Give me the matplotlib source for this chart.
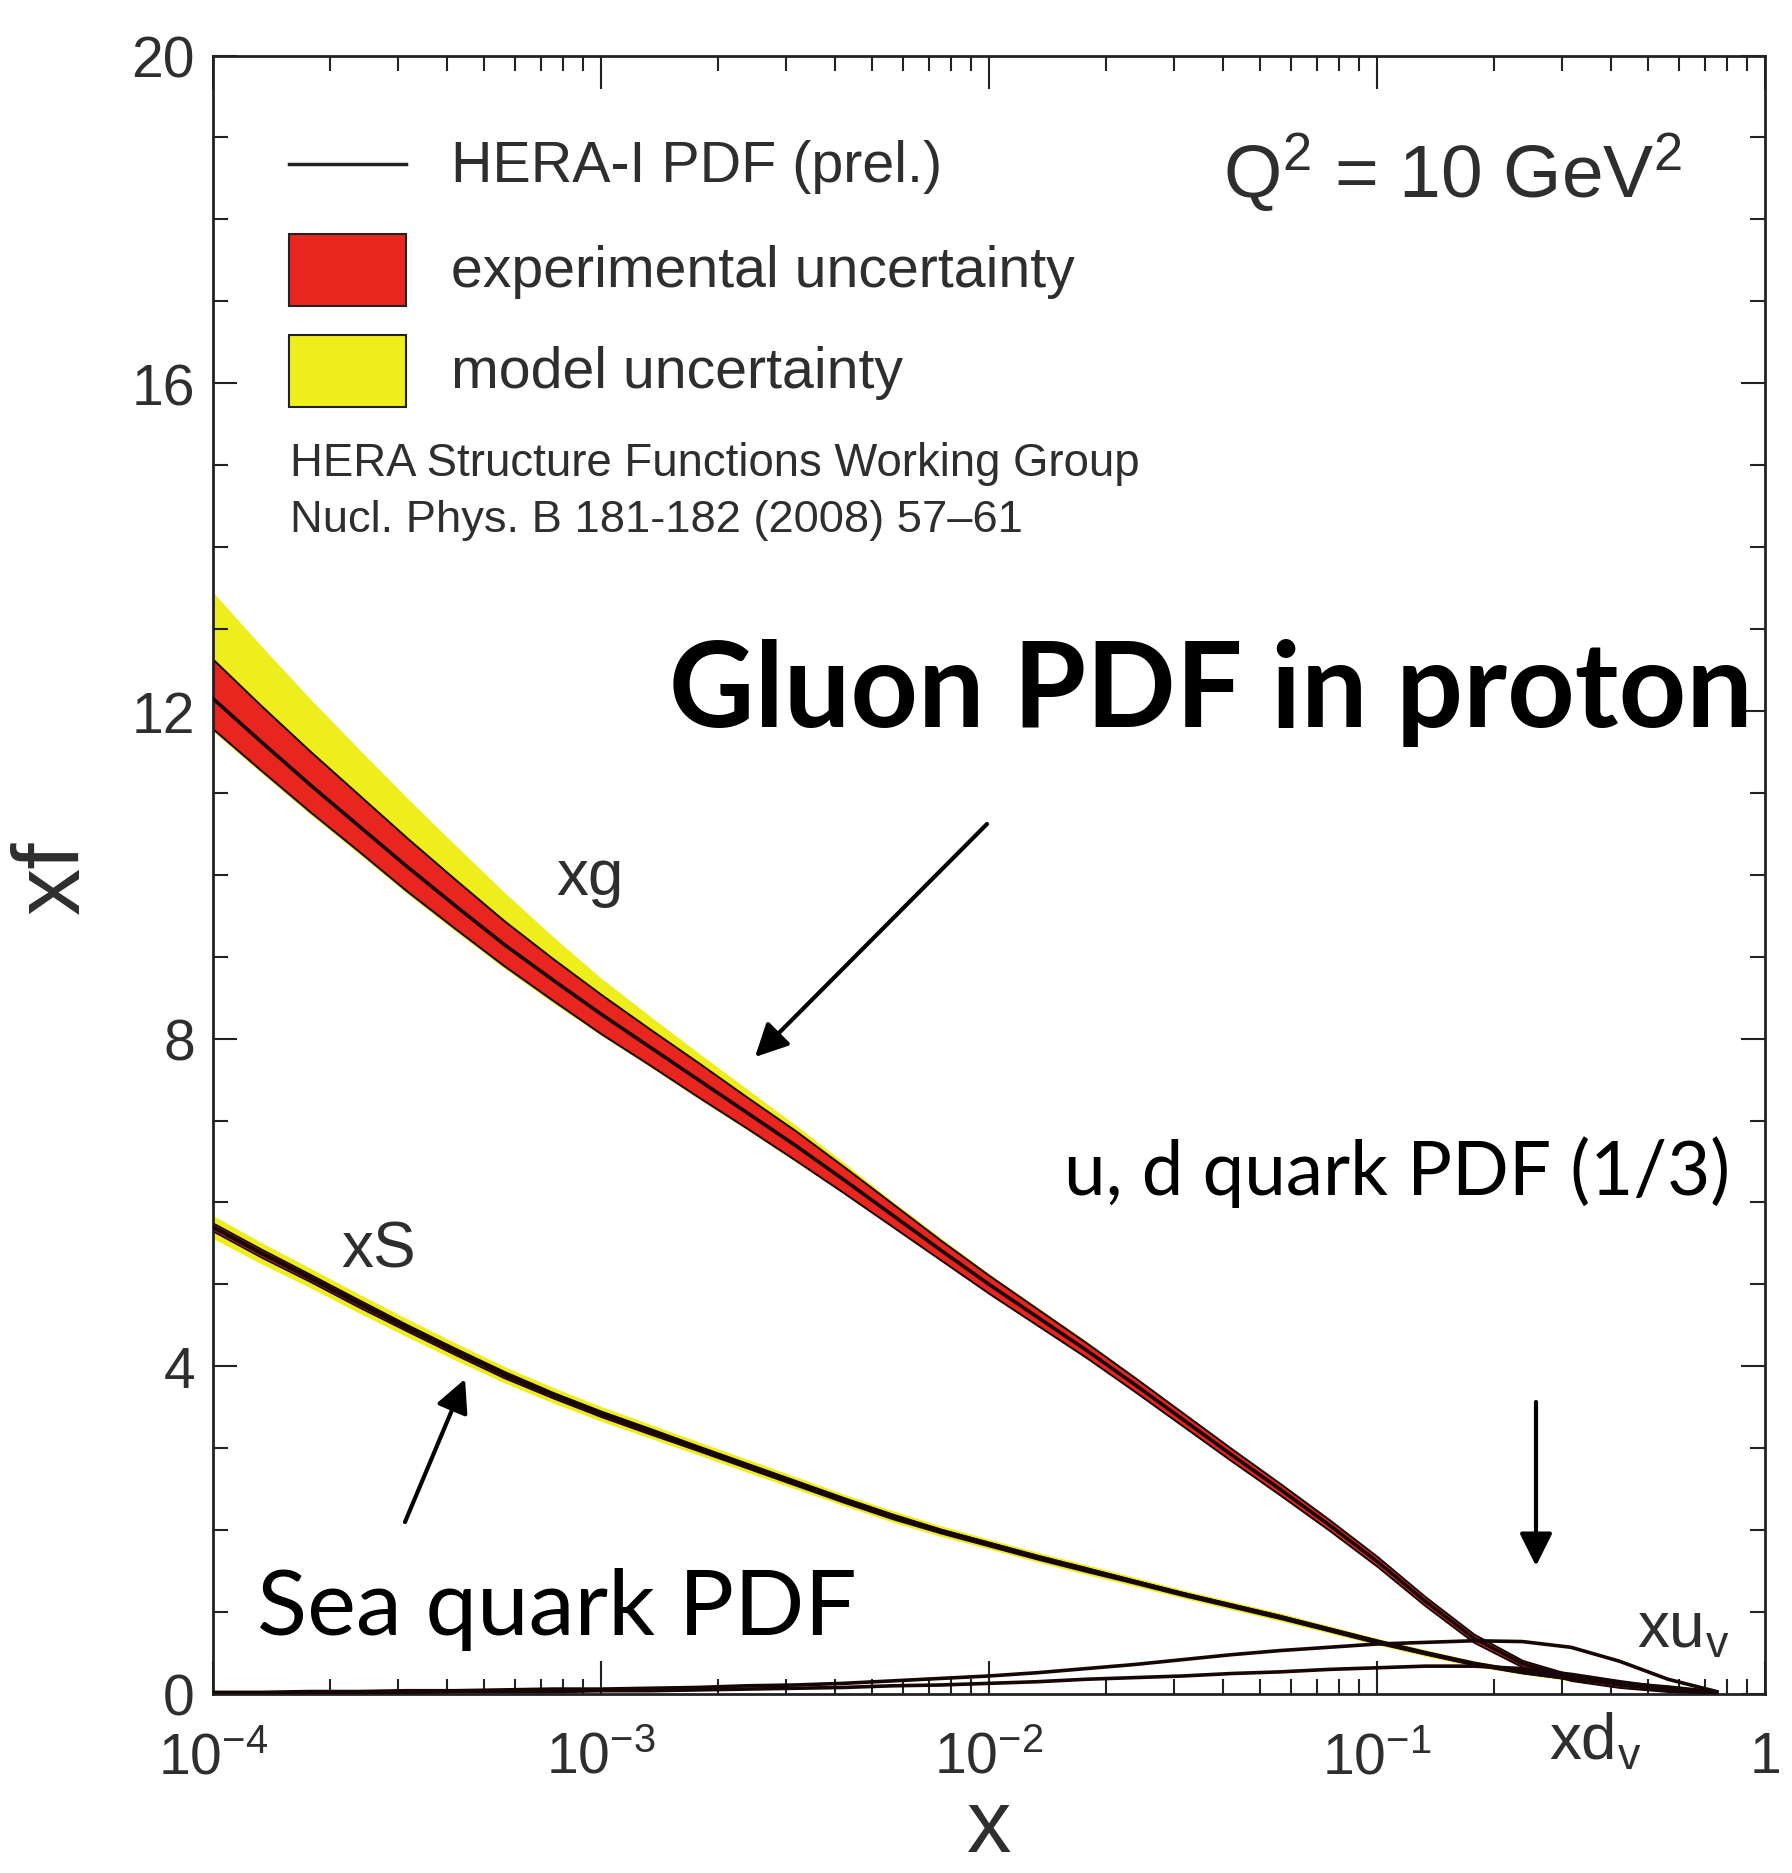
import numpy as np
import matplotlib
matplotlib.use("Agg")
import matplotlib.pyplot as plt
from matplotlib.lines import Line2D
from matplotlib.patches import Rectangle
from matplotlib.ticker import LogLocator, MultipleLocator, NullFormatter

plt.rcParams['font.family'] = ['Liberation Sans', 'DejaVu Sans']
plt.rcParams['mathtext.default'] = 'regular'

# ---- data (Q^2 = 10 GeV^2) ----
log_x = [-4.0, -3.875, -3.75, -3.625, -3.5, -3.375, -3.25, -3.125,
         -3.0, -2.875, -2.75, -2.625, -2.5, -2.375, -2.25, -2.125,
         -2.0, -1.875, -1.75, -1.625, -1.5, -1.375, -1.25, -1.125,
         -1.0, -0.875, -0.75, -0.625, -0.5, -0.375, -0.25, -0.125]

# gluon xg, central + half widths of bands
xg = [12.15, 11.62, 11.10, 10.60, 10.10, 9.62, 9.15, 8.72,
      8.30, 7.90, 7.50, 7.10, 6.70, 6.28, 5.85, 5.42,
      5.00, 4.60, 4.20, 3.78, 3.35, 2.92, 2.50, 2.07,
      1.62, 1.13, 0.68, 0.37, 0.20, 0.11, 0.05, 0.01]
xg_exp_up = [0.48, 0.44, 0.41, 0.38, 0.35, 0.32, 0.29, 0.26,
             0.24, 0.22, 0.21, 0.19, 0.18, 0.16, 0.14, 0.12,
             0.11, 0.10, 0.09, 0.085, 0.08, 0.075, 0.07, 0.065,
             0.06, 0.055, 0.05, 0.04, 0.035, 0.03, 0.02, 0.01]
xg_exp_dn = [0.37, 0.35, 0.33, 0.31, 0.30, 0.28, 0.26, 0.25,
             0.24, 0.22, 0.21, 0.19, 0.18, 0.16, 0.14, 0.12,
             0.11, 0.10, 0.09, 0.085, 0.08, 0.075, 0.07, 0.065,
             0.06, 0.055, 0.05, 0.04, 0.035, 0.03, 0.02, 0.01]
xg_mod_up = [1.30, 1.17, 1.05, 0.94, 0.84, 0.74, 0.64, 0.53,
             0.44, 0.38, 0.33, 0.29, 0.25, 0.21, 0.17, 0.15,
             0.13, 0.12, 0.11, 0.10, 0.09, 0.085, 0.08, 0.075,
             0.07, 0.065, 0.06, 0.05, 0.04, 0.035, 0.025, 0.015]
xg_mod_dn = [0.40, 0.38, 0.36, 0.34, 0.33, 0.31, 0.29, 0.28,
             0.26, 0.24, 0.23, 0.21, 0.20, 0.17, 0.15, 0.13,
             0.12, 0.11, 0.10, 0.095, 0.09, 0.085, 0.08, 0.075,
             0.07, 0.065, 0.06, 0.05, 0.04, 0.035, 0.025, 0.015]

# sea xS
xS = [5.70, 5.38, 5.08, 4.77, 4.47, 4.18, 3.90, 3.65,
      3.42, 3.21, 3.00, 2.79, 2.58, 2.37, 2.17, 1.99,
      1.83, 1.67, 1.52, 1.37, 1.22, 1.08, 0.94, 0.79,
      0.64, 0.50, 0.37, 0.27, 0.19, 0.13, 0.08, 0.02]
xS_exp = [0.05, 0.05, 0.045, 0.045, 0.04, 0.04, 0.04, 0.035,
          0.035, 0.035, 0.03, 0.03, 0.03, 0.03, 0.03, 0.025,
          0.025, 0.025, 0.025, 0.02, 0.02, 0.02, 0.02, 0.02,
          0.02, 0.015, 0.015, 0.015, 0.01, 0.01, 0.01, 0.005]
xS_mod = [0.14, 0.13, 0.12, 0.115, 0.11, 0.105, 0.10, 0.095,
          0.09, 0.085, 0.08, 0.08, 0.075, 0.07, 0.07, 0.065,
          0.06, 0.06, 0.06, 0.055, 0.05, 0.05, 0.05, 0.045,
          0.04, 0.04, 0.035, 0.03, 0.03, 0.02, 0.02, 0.01]

# valence
xuv = [0.02, 0.02, 0.03, 0.03, 0.04, 0.04, 0.05, 0.06,
       0.06, 0.07, 0.08, 0.10, 0.11, 0.13, 0.16, 0.19,
       0.22, 0.26, 0.31, 0.36, 0.42, 0.48, 0.53, 0.57,
       0.61, 0.63, 0.65, 0.64, 0.57, 0.40, 0.18, 0.03]
xdv = [0.01, 0.01, 0.02, 0.02, 0.02, 0.03, 0.03, 0.03,
       0.04, 0.04, 0.05, 0.06, 0.07, 0.08, 0.10, 0.11,
       0.13, 0.15, 0.18, 0.20, 0.22, 0.25, 0.27, 0.30,
       0.32, 0.34, 0.34, 0.31, 0.24, 0.15, 0.07, 0.01]

xtick_vals = [1e-4, 1e-3, 1e-2, 1e-1, 1]
xtick_labels = [r'$10^{-4}$', r'$10^{-3}$', r'$10^{-2}$', r'$10^{-1}$', '1']
ytick_vals = [0, 4, 8, 12, 16, 20]
ytick_labels = ['0', '4', '8', '12', '16', '20']

RED = '#e8251e'
YELLOW = '#eeee1c'
DARK = '#160606'
GREY = '#2e2e2e'

W, H = 1792, 1874


def fx(p):
    return p / W


def fy(p):
    return 1 - p / H


fig = plt.figure(figsize=(W / 100, H / 100), dpi=100)
ax = fig.add_axes([fx(213), fy(1695), (1765 - 213) / W, (1695 - 56.5) / H])

x = 10.0 ** np.array(log_x)
g = np.array(xg)
s = np.array(xS)

# gluon
ax.fill_between(x, g - np.array(xg_mod_dn), g + np.array(xg_mod_up),
                color=YELLOW, lw=0, zorder=1)
ax.fill_between(x, g - np.array(xg_exp_dn), g + np.array(xg_exp_up),
                facecolor=RED, edgecolor=DARK, lw=1.4, zorder=2)
ax.plot(x, g, color=DARK, lw=2.6, zorder=3)

# sea
ax.fill_between(x, s - np.array(xS_mod), s + np.array(xS_mod),
                color=YELLOW, lw=0, zorder=1)
ax.fill_between(x, s - np.array(xS_exp), s + np.array(xS_exp),
                facecolor=RED, edgecolor=DARK, lw=1.2, zorder=2)
ax.plot(x, s, color=DARK, lw=3.2, zorder=3)

# valence
ax.plot(x, xuv, color=DARK, lw=2.6, zorder=4)
ax.plot(x, xdv, color=DARK, lw=2.6, zorder=4)

ax.set_xscale('log')
ax.set_xlim(1e-4, 1)
ax.set_ylim(0, 20)
ax.set_xticks(xtick_vals, xtick_labels)
ax.xaxis.set_minor_locator(LogLocator(base=10, subs=np.arange(2, 10)))
ax.xaxis.set_minor_formatter(NullFormatter())
ax.set_yticks(ytick_vals, ytick_labels)
ax.yaxis.set_minor_locator(MultipleLocator(1))
ax.tick_params(which='both', direction='in', top=True, right=True,
               width=1.5, color='#222222', labelcolor=GREY, labelsize=41)
ax.tick_params(axis='x', which='major', length=24, pad=26)
ax.tick_params(axis='x', which='minor', length=11)
ax.tick_params(axis='y', which='major', length=17, pad=13)
ax.tick_params(axis='y', which='minor', length=11)
for sp in ax.spines.values():
    sp.set_linewidth(2)
    sp.set_color('#222222')

# axis titles
fig.text(fx(989), fy(1852), 'x', fontsize=64, color=GREY, ha='center', va='baseline')
fig.text(fx(54), fy(877), 'xf', fontsize=68, color=GREY, rotation=90,
         ha='center', va='center')

# legend block
fig.add_artist(Line2D([fx(289), fx(406)], [fy(165), fy(165)], transform=fig.transFigure,
                      color='#222222', lw=2.5))
fig.add_artist(Rectangle((fx(289), fy(307)), (406 - 289) / W, (307 - 235) / H,
                         transform=fig.transFigure, facecolor=RED, edgecolor='#222222', lw=1.5))
fig.add_artist(Rectangle((fx(289), fy(408)), (406 - 289) / W, (408 - 336) / H,
                         transform=fig.transFigure, facecolor=YELLOW, edgecolor='#222222', lw=1.5))

renderer = fig.canvas.get_renderer()


def fit_width(t, target):
    w = t.get_window_extent(renderer).width
    t.set_fontsize(t.get_fontsize() * target / w)


items = [
    (451, 182, 'HERA-I PDF (prel.)', 490),
    (451, 287, 'experimental uncertainty', 624),
    (451, 388, 'model uncertainty', 452),
    (290, 476, 'HERA Structure Functions Working Group', 849),
    (290, 532, 'Nucl. Phys. B 181-182 (2008) 57\u201361', 732),
]
for px, py, txt, wd in items:
    t = fig.text(fx(px), fy(py), txt, fontsize=40, color=GREY, va='baseline')
    fit_width(t, wd)

fig.text(fx(1223), fy(198), r'$Q^2$ = 10 GeV$^2$', fontsize=54, color=GREY, va='baseline')

# curve labels
fig.text(fx(556), fy(895), 'xg', fontsize=46, color=GREY, va='baseline')
fig.text(fx(341), fy(1267), 'xS', fontsize=46, color=GREY, va='baseline')
fig.text(fx(1637), fy(1648), r'$xu_v$', fontsize=46, color=GREY, va='baseline')
fig.text(fx(1549), fy(1760), r'$xd_v$', fontsize=46, color=GREY, va='baseline')

# slide annotations
t = fig.text(fx(669), fy(727), 'Gluon PDF in proton', fontsize=80, fontweight='bold',
             family=['Lato', 'DejaVu Sans'], color='black', va='baseline')
fit_width(t, 1084)
t = fig.text(fx(257), fy(1635), 'Sea quark PDF', fontsize=70,
             family=['Lato', 'DejaVu Sans'], color='black', va='baseline')
fit_width(t, 600)
t = fig.text(fx(1064), fy(1195), 'u, d quark PDF (1/3)', fontsize=50,
             family=['Lato', 'DejaVu Sans'], color='black', va='baseline')
fit_width(t, 666)

arrow = dict(arrowstyle='-|>', lw=3, color='black', mutation_scale=50,
             shrinkA=0, shrinkB=0)
ax.annotate('', xy=(fx(755), fy(1058)), xytext=(fx(987), fy(825)),
            xycoords='figure fraction', textcoords='figure fraction', arrowprops=arrow)
ax.annotate('', xy=(fx(465), fy(1380)), xytext=(fx(405), fy(1523)),
            xycoords='figure fraction', textcoords='figure fraction', arrowprops=arrow)
ax.annotate('', xy=(fx(1536), fy(1567)), xytext=(fx(1536), fy(1403)),
            xycoords='figure fraction', textcoords='figure fraction', arrowprops=arrow)

fig.savefig('out.png', dpi=100, facecolor='white')
